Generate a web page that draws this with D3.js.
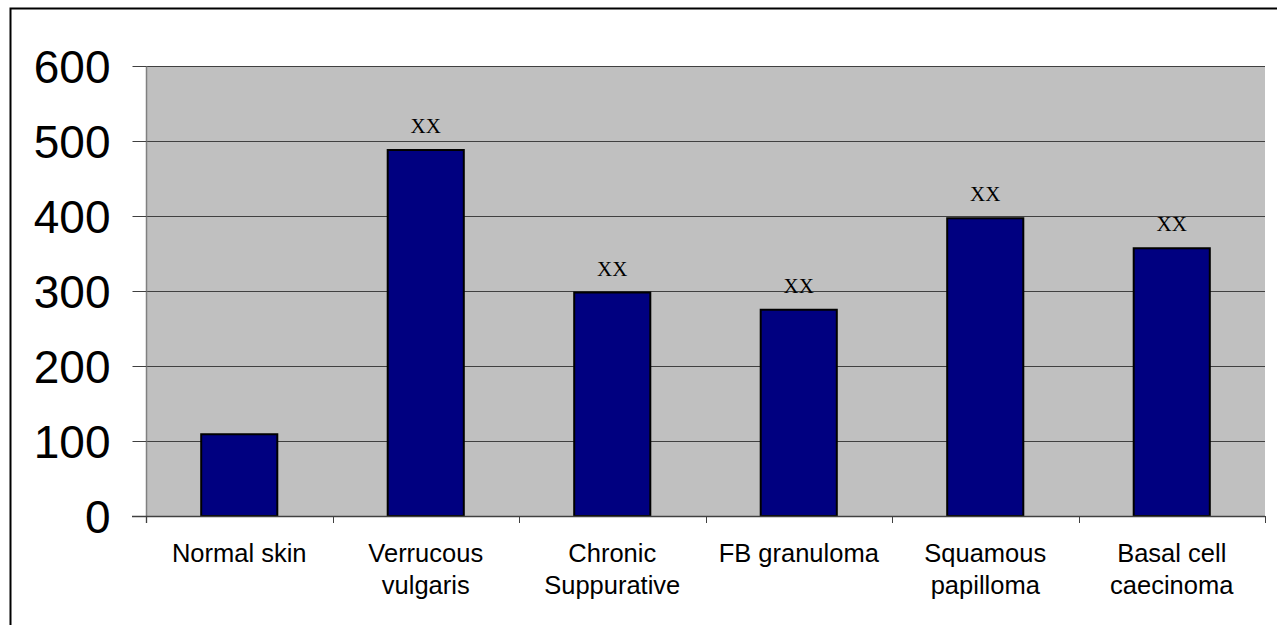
<!DOCTYPE html>
<html>
<head>
<meta charset="utf-8">
<script src="https://cdn.jsdelivr.net/npm/d3@7"></script>
<style>
  html, body { margin: 0; padding: 0; background: #fff; }
  svg { display: block; }
</style>
</head>
<body>
<svg id="chart" width="1277" height="625"></svg>
<script>
// Lesion categories (each label split into display lines)
const categories = [
  ["Normal skin"],
  ["Verrucous", "vulgaris"],
  ["Chronic", "Suppurative"],
  ["FB granuloma"],
  ["Squamous", "papilloma"],
  ["Basal cell", "caecinoma"]
];
const values = [109, 488, 298, 275, 397, 357];
const annotations = ["", "XX", "XX", "XX", "XX", "XX"];
const yTicks = [0, 100, 200, 300, 400, 500, 600];

const svg = d3.select("#chart");
const plot = { left: 146, right: 1265, top: 66, bottom: 516 };

// Outer frame
svg.append("rect")
  .attr("x", 10.5).attr("y", 8.5)
  .attr("width", 1400).attr("height", 800)
  .attr("fill", "#fff").attr("stroke", "#000").attr("stroke-width", 2);

const x = d3.scaleBand()
  .domain(d3.range(categories.length))
  .range([plot.left, plot.right])
  .paddingInner(0.592)
  .paddingOuter(0.296);

const y = d3.scaleLinear().domain([0, 600]).range([plot.bottom, plot.top]);

// Plot background
svg.append("rect")
  .attr("x", plot.left).attr("y", plot.top)
  .attr("width", plot.right - plot.left).attr("height", plot.bottom - plot.top)
  .attr("fill", "#c0c0c0");

// Horizontal gridlines
svg.append("g")
  .selectAll("line")
  .data(yTicks.filter(d => d > 0))
  .join("line")
  .attr("x1", plot.left).attr("x2", plot.right)
  .attr("y1", d => Math.round(y(d)) + 0.5).attr("y2", d => Math.round(y(d)) + 0.5)
  .attr("stroke", "#404040").attr("stroke-width", 1);

// Y axis
const yAxis = svg.append("g")
  .attr("transform", `translate(${plot.left + 0.5},0)`)
  .call(d3.axisLeft(y).tickValues(yTicks).tickSize(14).tickPadding(22).tickFormat(d3.format("d")));
yAxis.select(".domain").attr("stroke", "#808080").attr("stroke-width", 1.5)
  .attr("d", `M0,${plot.top}V${plot.bottom + 7}`);
yAxis.selectAll(".tick line").attr("stroke", "#404040");
yAxis.selectAll(".tick text")
  .attr("font-family", "Liberation Sans, Arial, sans-serif")
  .attr("font-size", 46)
  .attr("fill", "#000")
  .attr("dy", "0.36em");

// Bars
svg.append("g")
  .selectAll("rect")
  .data(values)
  .join("rect")
  .attr("x", (d, i) => x(i))
  .attr("y", d => y(d))
  .attr("width", x.bandwidth())
  .attr("height", d => y(0) - y(d))
  .attr("fill", "#000080")
  .attr("stroke", "#000")
  .attr("stroke-width", 2);

// X axis baseline and category dividers
const step = x.step();
const boundaries = d3.range(categories.length + 1).map(i => plot.left + i * step);
svg.append("line")
  .attr("x1", plot.left - 14).attr("x2", plot.right)
  .attr("y1", plot.bottom + 0.5).attr("y2", plot.bottom + 0.5)
  .attr("stroke", "#404040").attr("stroke-width", 1.5);
svg.append("g")
  .selectAll("line")
  .data(boundaries)
  .join("line")
  .attr("x1", d => Math.round(d) + 0.5).attr("x2", d => Math.round(d) + 0.5)
  .attr("y1", plot.bottom).attr("y2", plot.bottom + 7)
  .attr("stroke", "#404040").attr("stroke-width", 1);

// Category labels
svg.append("g")
  .selectAll("text")
  .data(categories)
  .join("text")
  .attr("x", (d, i) => x(i) + x.bandwidth() / 2)
  .attr("y", 562)
  .attr("text-anchor", "middle")
  .attr("font-family", "Liberation Sans, Arial, sans-serif")
  .attr("font-size", 25.5)
  .attr("fill", "#000")
  .selectAll("tspan")
  .data(d => d)
  .join("tspan")
  .attr("x", function () { return d3.select(this.parentNode).attr("x"); })
  .attr("dy", (d, i) => i === 0 ? 0 : 31.5)
  .text(d => d);

// Significance markers above bars
svg.append("g")
  .selectAll("text")
  .data(values)
  .join("text")
  .attr("x", (d, i) => x(i) + x.bandwidth() / 2)
  .attr("y", d => y(d) - 17)
  .attr("text-anchor", "middle")
  .attr("font-family", "Liberation Serif, Times New Roman, serif")
  .attr("font-size", 21)
  .attr("fill", "#000")
  .text((d, i) => annotations[i]);
</script>
</body>
</html>
